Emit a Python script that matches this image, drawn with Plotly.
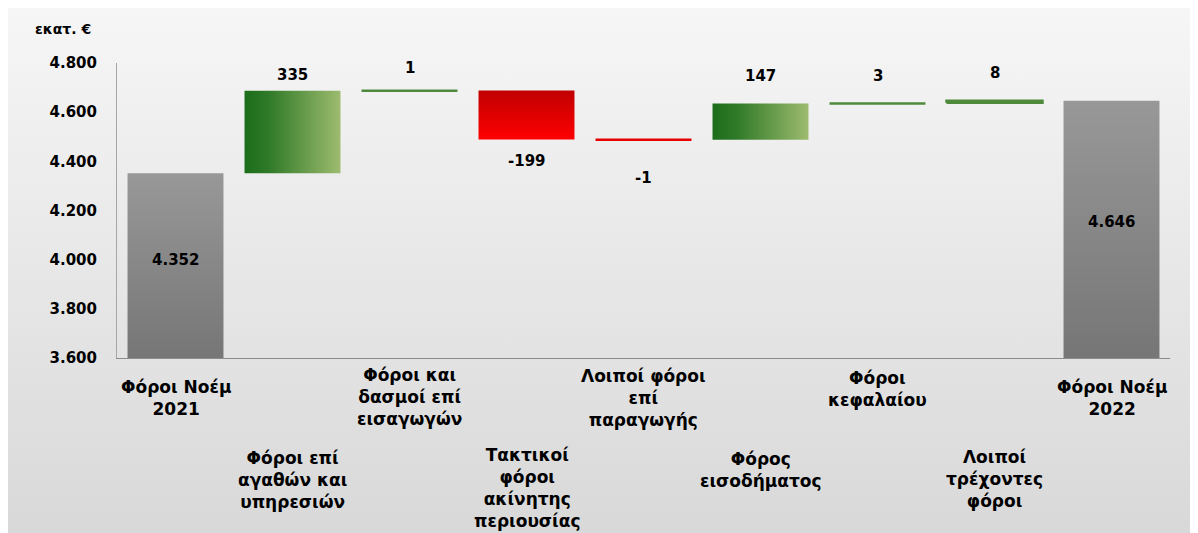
import plotly.graph_objects as go

# ---------------- data ----------------
categories = [
    "Φόροι Νοέμ<br>2021",
    "Φόροι επί<br>αγαθών και<br>υπηρεσιών",
    "Φόροι και<br>δασμοί επί<br>εισαγωγών",
    "Τακτικοί<br>φόροι<br>ακίνητης<br>περιουσίας",
    "Λοιποί φόροι<br>επί<br>παραγωγής",
    "Φόρος<br>εισοδήματος",
    "Φόροι<br>κεφαλαίου",
    "Λοιποί<br>τρέχοντες<br>φόροι",
    "Φόροι Νοέμ<br>2022",
]
measures = ["total", "relative", "relative", "relative", "relative",
            "relative", "relative", "relative", "total"]
values = [4352, 335, 1, -199, -1, 147, 3, 8, 4646]
y_ticks = [3600, 3800, 4000, 4200, 4400, 4600, 4800]
y_tick_labels = ["3.600", "3.800", "4.000", "4.200", "4.400", "4.600", "4.800"]
unit_label = "εκατ. €"

# ---------------- style / layout ----------------
W, H = 1198, 533
OFF = 8  # page body margin in the screenshot


def fx(px):
    return (px - OFF) / W


def fy(py):
    return 1 - (py - OFF) / H


Y_RANGE = [3600, 4800]
BAR_W = 0.82
FONT = "DejaVu Sans"
X0, X1 = fx(117), fx(1170)
Y0, Y1 = fy(358), fy(63)
value_label_shift = [6, 16, 23, -22, -38, 28, 27, 28, 7]      # px
cat_label_top_px = [375, 446, 363, 443, 364, 447, 366, 445, 375]

GREY = [[0, "#767676"], [1, "#989898"]]
GREEN = [[0, "#1b6d1b"], [0.25, "#2f7a28"], [1, "#9dbb6e"]]
RED = [[0, "#ff0000"], [1, "#c00000"]]

# ---------------- bar extents ----------------
lo, hi, ends = [], [], []
running = 0
for m, v in zip(measures, values):
    if m == "total":
        lo.append(0)
        hi.append(v)
        running = v
        ends.append(v)
    else:
        a, b = running, running + v
        lo.append(min(a, b))
        hi.append(max(a, b))
        running = b
        ends.append(b)

fig = go.Figure()

# background gradient (full-paper helper axes)
fig.add_trace(go.Scatter(
    x=[0, 1, 1, 0, 0], y=[0, 0, 1, 1, 0], fill="toself", mode="none",
    fillgradient=dict(type="vertical", colorscale=[[0, "#d8d8d8"], [1, "#f6f6f6"]],
                      start=0, stop=1),
    hoverinfo="skip", showlegend=False, xaxis="x", yaxis="y"))

for i, (m, v) in enumerate(zip(measures, values)):
    xl, xr = i - BAR_W / 2, i + BAR_W / 2
    if m == "total":
        grad = dict(type="vertical", colorscale=GREY, start=Y_RANGE[0], stop=hi[i])
        lc, lw = "#888888", 0
    elif v >= 0:
        grad = dict(type="horizontal", colorscale=GREEN, start=xl, stop=xr)
        lc, lw = "#4f8a3c", (2.5 if abs(v) < 20 else 0)
    else:
        grad = dict(type="vertical", colorscale=RED, start=lo[i], stop=hi[i])
        lc, lw = "#e80000", (2.5 if abs(v) < 20 else 0)
    fig.add_trace(go.Scatter(
        x=[xl, xr, xr, xl, xl], y=[lo[i], lo[i], hi[i], hi[i], lo[i]],
        fill="toself", mode="lines", line=dict(color=lc, width=lw),
        fillgradient=grad, hoverinfo="skip", showlegend=False,
        xaxis="x2", yaxis="y2"))

annotations = []
for i, (m, v) in enumerate(zip(measures, values)):
    if m == "total":
        yv = (Y_RANGE[0] + v) / 2
    else:
        yv = ends[i]
    annotations.append(dict(
        x=i, y=yv, xref="x2", yref="y2", text=f"{v:,}".replace(",", "."),
        showarrow=False, yshift=value_label_shift[i], yanchor="middle",
        font=dict(family=FONT, size=15, color="#000000", weight="bold")))
    annotations.append(dict(
        x=i, y=fy(cat_label_top_px[i]), xref="x2", yref="paper",
        text=categories[i], showarrow=False, yanchor="top", align="center",
        font=dict(family=FONT, size=17, color="#000000", weight="bold")))

annotations.append(dict(
    x=fx(63), y=fy(29), xref="paper", yref="paper", text=unit_label,
    showarrow=False, xanchor="center", yanchor="middle",
    font=dict(family=FONT, size=14, color="#000000", weight="bold")))

fig.update_layout(
    width=W, height=H,
    margin=dict(l=0, r=0, t=0, b=0, autoexpand=False),
    paper_bgcolor="#ebebeb", plot_bgcolor="rgba(0,0,0,0)",
    separators=",.",
    showlegend=False,
    xaxis=dict(domain=[0, 1], range=[0, 1], visible=False, fixedrange=True),
    yaxis=dict(domain=[0, 1], range=[0, 1], visible=False, fixedrange=True),
    xaxis2=dict(domain=[X0, X1], range=[-0.5, 8.5], anchor="y2",
                showline=True, linecolor="#8c8c8c", linewidth=1,
                showticklabels=False, showgrid=False, zeroline=False, ticks=""),
    yaxis2=dict(domain=[Y0, Y1], range=Y_RANGE, anchor="x2",
                showline=True, linecolor="#a6a6a6", linewidth=1,
                tickvals=y_ticks, ticktext=y_tick_labels,
                showgrid=False, zeroline=False, ticks="", ticklabelstandoff=16,
                tickfont=dict(family=FONT, size=15, color="#000000", weight="bold")),
    annotations=annotations,
)

fig.write_html("out.html")
